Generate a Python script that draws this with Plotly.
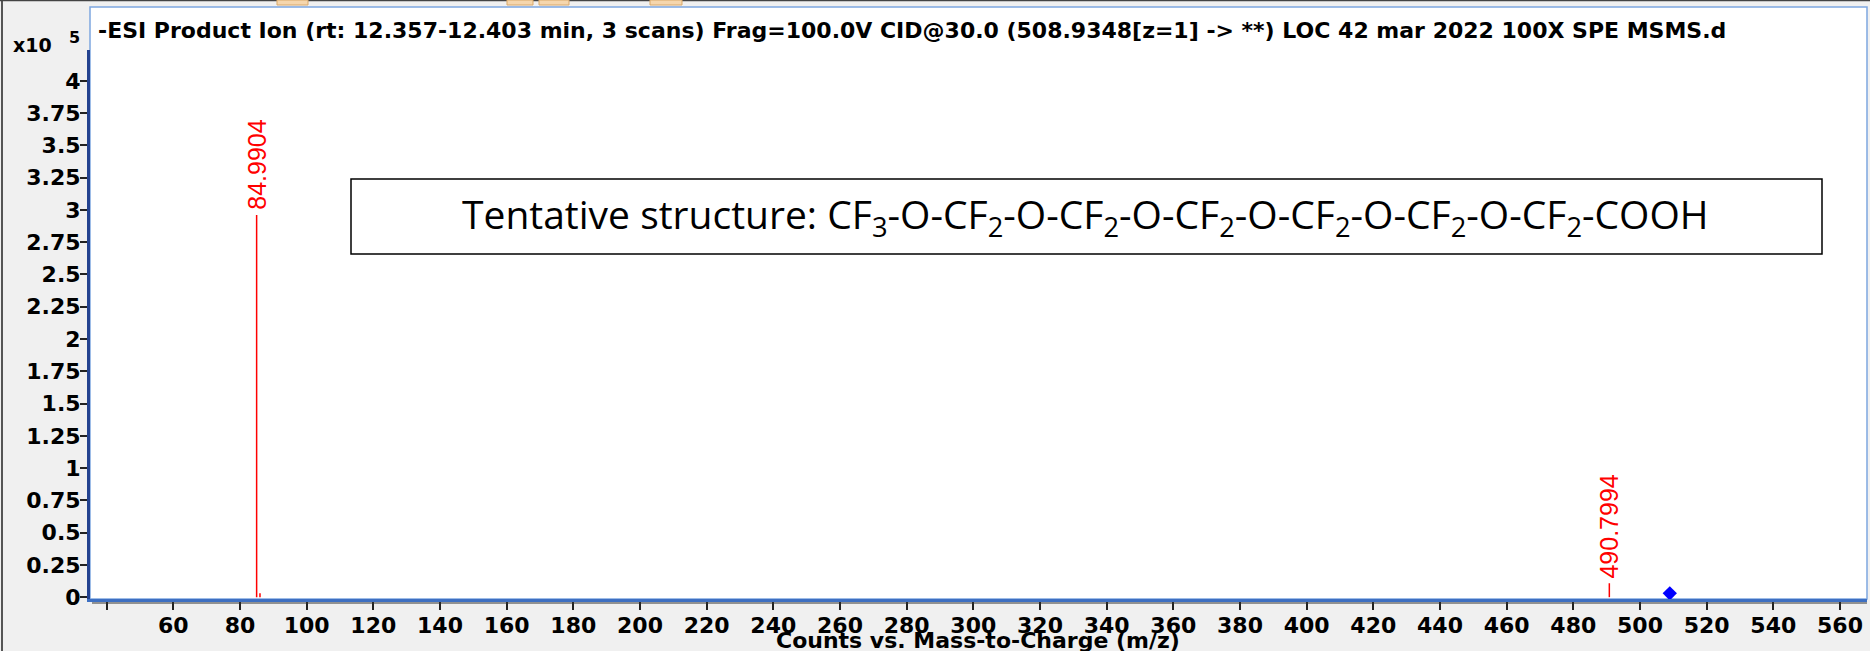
import plotly.graph_objects as go

# ---------------- data ----------------
peak_mz = [84.9904, 85.9937, 490.7994]
peak_intensity = [296000, 3000, 10800]
peak_labels = ["84.9904", "", "490.7994"]

precursor_mz = [508.9348]
precursor_marker_y = [3000]

x_tick_vals = [60, 80, 100, 120, 140, 160, 180, 200, 220, 240, 260, 280, 300,
               320, 340, 360, 380, 400, 420, 440, 460, 480, 500, 520, 540, 560]
x_tick_text = ["60", "80", "100", "120", "140", "160", "180", "200", "220", "240",
               "260", "280", "300", "320", "340", "360", "380", "400", "420", "440",
               "460", "480", "500", "520", "540", "560"]
x_unlabeled_ticks = [40]
y_tick_vals = [0, 25000, 50000, 75000, 100000, 125000, 150000, 175000, 200000,
               225000, 250000, 275000, 300000, 325000, 350000, 375000, 400000]
y_tick_text = ["0", "0.25", "0.5", "0.75", "1", "1.25", "1.5", "1.75", "2", "2.25",
               "2.5", "2.75", "3", "3.25", "3.5", "3.75", "4"]

title_text = ("-ESI Product Ion (rt: 12.357-12.403 min, 3 scans) Frag=100.0V CID@30.0 "
              "(508.9348[z=1] -> **) LOC 42 mar 2022 100X SPE MSMS.d")
x_title = "Counts vs. Mass-to-Charge (m/z)"
structure_text = ("Tentative structure: CF<sub>3</sub>-O-CF<sub>2</sub>-O-CF<sub>2</sub>-O-"
                  "CF<sub>2</sub>-O-CF<sub>2</sub>-O-CF<sub>2</sub>-O-CF<sub>2</sub>-COOH")

# ---------------- layout geometry (pixels) ----------------
W_FIG, H_FIG = 1870, 651
L, R, T, B = 90, 3, 50, 52
PW = W_FIG - L - R
PH = H_FIG - T - B


def px_x(px):
    return (px - L) / PW


def px_y(py):
    return (H_FIG - B - py) / PH


# ---------------- traces ----------------
xs, ys = [], []
for m, h in zip(peak_mz, peak_intensity):
    xs += [m, m, None]
    ys += [0, h, None]

fig = go.Figure()
fig.add_trace(go.Scatter(x=xs, y=ys, mode="lines",
                         line=dict(color="#ff0000", width=1.5),
                         hoverinfo="skip", showlegend=False))
fig.add_trace(go.Scatter(x=precursor_mz, y=precursor_marker_y, mode="markers",
                         marker=dict(symbol="diamond", size=11, color="#0000ff"),
                         showlegend=False))

# peak labels
for m, h, lab in zip(peak_mz, peak_intensity, peak_labels):
    if lab:
        fig.add_annotation(x=m, y=h, text=lab, textangle=-90, showarrow=False,
                           xanchor="center", yanchor="bottom", yshift=3,
                           font=dict(family="Liberation Sans", size=25, color="#ff0000"))

tick_font = dict(family="DejaVu Sans", size=22, color="#000000", weight="bold")

fig.update_layout(
    width=W_FIG, height=H_FIG,
    margin=dict(l=L, r=R, t=T, b=B, pad=0),
    paper_bgcolor="#f0f0f0",
    plot_bgcolor="#ffffff",
    showlegend=False,
    xaxis=dict(range=[35.0, 568.1], tickvals=x_tick_vals, ticktext=x_tick_text,
               showgrid=False, zeroline=False, showline=True, linecolor="#3d6fc2",
               linewidth=3, ticks="outside", ticklen=8, tickwidth=1.5,
               tickcolor="#222222", tickfont=tick_font, ticklabelstandoff=-3,
               minor=dict(tickvals=x_unlabeled_ticks, ticks="outside", ticklen=8,
                          tickwidth=1.5, tickcolor="#222222", showgrid=False)),
    yaxis=dict(range=[-1400, 423860], tickvals=y_tick_vals, ticktext=y_tick_text,
               showgrid=False, zeroline=False, showline=True, linecolor="#23428f",
               linewidth=3, ticks="outside", ticklen=7, tickwidth=1.5,
               tickcolor="#222222", tickfont=tick_font, ticklabelstandoff=-5),
)

shapes = []
# white panel with light-blue frame
shapes.append(dict(type="rect", xref="paper", yref="paper", x0=0, x1=1,
                   y0=0, y1=px_y(7), fillcolor="#ffffff",
                   line=dict(color="#7ea6e0", width=1.5), layer="below"))
# thin dark line under x axis
shapes.append(dict(type="line", xref="paper", yref="paper", x0=px_x(92), x1=1,
                   y0=px_y(603), y1=px_y(603), line=dict(color="#333333", width=1)))
# structure box
shapes.append(dict(type="rect", xref="paper", yref="paper", x0=px_x(351), x1=px_x(1822),
                   y0=px_y(254), y1=px_y(179), fillcolor="#ffffff",
                   line=dict(color="#000000", width=1.5), layer="above"))
# window decorations (outer edge + toolbar buttons)
shapes.append(dict(type="line", xref="paper", yref="paper", x0=px_x(2), x1=px_x(2),
                   y0=px_y(651), y1=px_y(0), line=dict(color="#555555", width=2)))
shapes.append(dict(type="line", xref="paper", yref="paper", x0=px_x(0), x1=px_x(1870),
                   y0=px_y(0.5), y1=px_y(0.5), line=dict(color="#444444", width=1.5)))
for bx0, bx1 in [(277, 308), (507, 533), (539, 569), (650, 682)]:
    shapes.append(dict(type="rect", xref="paper", yref="paper", x0=px_x(bx0), x1=px_x(bx1),
                       y0=px_y(5), y1=px_y(0), fillcolor="#f5d6ad",
                       line=dict(color="#d9a868", width=1)))
fig.update_layout(shapes=shapes)

# title inside panel
fig.add_annotation(xref="paper", yref="paper", x=px_x(96), y=px_y(30), text=title_text,
                   showarrow=False, xanchor="left", yanchor="middle",
                   font=dict(family="DejaVu Sans", size=22, color="#000000", weight="bold"))
# x10^5 multiplier
fig.add_annotation(xref="paper", yref="paper", x=px_x(54), y=px_y(45), text="x10",
                   showarrow=False, xanchor="right", yanchor="middle",
                   font=dict(family="DejaVu Sans", size=19, color="#000000", weight="bold"))
fig.add_annotation(xref="paper", yref="paper", x=px_x(74), y=px_y(38), text="5",
                   showarrow=False, xanchor="center", yanchor="middle",
                   font=dict(family="DejaVu Sans", size=16, color="#000000", weight="bold"))
# x axis title
fig.add_annotation(xref="paper", yref="paper", x=px_x(978), y=px_y(640), text=x_title,
                   showarrow=False, xanchor="center", yanchor="middle",
                   font=dict(family="DejaVu Sans", size=22, color="#000000", weight="bold"))
# structure text
fig.add_annotation(xref="paper", yref="paper", x=px_x(1085), y=px_y(216), text=structure_text,
                   showarrow=False, xanchor="center", yanchor="middle",
                   font=dict(family="Open Sans", size=39, color="#000000"))

fig.write_html("out.html",
               config={"displayModeBar": False},
               post_script="document.body.style.margin='0px';"
                           "document.body.style.padding='0px';"
                           "document.documentElement.style.overflow='hidden';")
